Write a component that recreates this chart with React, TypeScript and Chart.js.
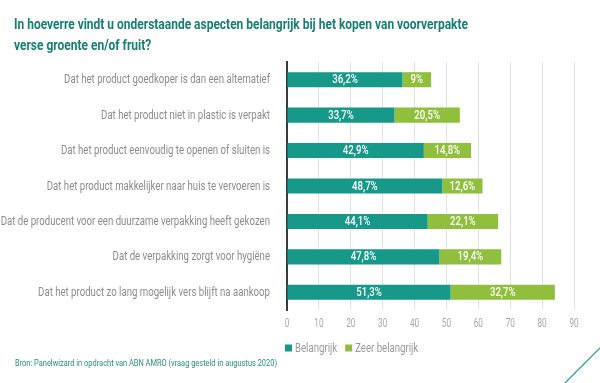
import React, { useEffect, useLayoutEffect, useRef } from "react";
import { Chart, registerables } from "chart.js";

Chart.register(...registerables);

const titleLines = [
  "In hoeverre vindt u onderstaande aspecten belangrijk bij het kopen van voorverpakte",
  "verse groente en/of fruit?",
];
const categories = [
  "Dat het product goedkoper is dan een alternatief",
  "Dat het product niet in plastic is verpakt",
  "Dat het product eenvoudig te openen of sluiten is",
  "Dat het product makkelijker naar huis te vervoeren is",
  "Dat de producent voor een duurzame verpakking heeft gekozen",
  "Dat de verpakking zorgt voor hygiëne",
  "Dat het product zo lang mogelijk vers blijft na aankoop",
];
const seriesNames = ["Belangrijk", "Zeer belangrijk"];
const belangrijk = [36.2, 33.7, 42.9, 48.7, 44.1, 47.8, 51.3];
const zeerBelangrijk = [9, 20.5, 14.8, 12.6, 22.1, 19.4, 32.7];
const xMin = 0;
const xMax = 90;
const xStep = 10;
const sourceText = "Bron: Panelwizard in opdracht van ABN AMRO (vraag gesteld in augustus 2020)";

const FONT = 'Roboto, "Liberation Sans", sans-serif';
const TEAL = "#17998a";
const GREEN = "#8fbf3d";
const colors = [TEAL, GREEN];

const fmt = (v: number) => String(v).replace(".", ",") + "%";

function drawNarrow(ctx: CanvasRenderingContext2D, text: string, x: number, y: number, align: CanvasTextAlign, sx: number, font: string, color: string) {
  ctx.save();
  ctx.font = font;
  ctx.fillStyle = color;
  ctx.textAlign = align;
  ctx.textBaseline = "middle";
  ctx.translate(x, y);
  ctx.scale(sx, 1);
  ctx.fillText(text, 0, 0);
  ctx.restore();
}

const textPlugin = {
  id: "narrowText",
  afterDatasetsDraw(chart: any) {
    const ctx = chart.ctx as CanvasRenderingContext2D;
    chart.data.datasets.forEach((ds: any, i: number) => {
      const meta = chart.getDatasetMeta(i);
      meta.data.forEach((bar: any, j: number) => {
        const v = ds.data[j] as number;
        const { x, y, base } = bar.getProps(["x", "y", "base"], true);
        drawNarrow(ctx, fmt(v), (x + base) / 2, y + 0.5, "center", 0.8, `500 12px ${FONT}`, "#ffffff");
      });
    });
  },
  afterDraw(chart: any) {
    const ctx = chart.ctx as CanvasRenderingContext2D;
    const ys = chart.scales.y;
    const xs = chart.scales.x;
    (chart.data.labels as string[]).forEach((lab, i) => {
      drawNarrow(ctx, lab, ys.right - 17, ys.getPixelForTick(i) + 0.5, "right", 0.77, `12.5px ${FONT}`, "#8c8c8c");
    });
    xs.ticks.forEach((t: any) => {
      drawNarrow(ctx, String(t.value), xs.getPixelForValue(t.value), xs.top + 14, "center", 0.68, `12px ${FONT}`, "#a8a8a8");
    });
    let lx = xs.left - 2;
    const ly = xs.top + 38;
    chart.data.datasets.forEach((ds: any, i: number) => {
      ctx.save();
      ctx.fillStyle = ds.backgroundColor;
      ctx.fillRect(lx, ly - 3.5, 7, 7);
      ctx.restore();
      const font = `13px ${FONT}`;
      ctx.save();
      ctx.font = font;
      const w = ctx.measureText(ds.label).width * 0.74;
      ctx.restore();
      drawNarrow(ctx, ds.label, lx + 10, ly + 0.5, "left", 0.74, font, "#9a9a9a");
      lx += 10 + w + 8;
    });
  },
};

function FitText({ lines, width, style }: { lines: string[]; width: number; style: React.CSSProperties }) {
  const ref = useRef<HTMLDivElement | null>(null);
  useLayoutEffect(() => {
    const el = ref.current;
    if (!el) return;
    const first = el.firstElementChild?.firstElementChild as HTMLElement;
    const natural = first.getBoundingClientRect().width;
    el.style.transform = `scaleX(${width / natural})`;
  }, []);
  return (
    <div ref={ref} style={{ ...style, transformOrigin: "0 0", whiteSpace: "nowrap" }}>
      {lines.map((t, i) => (
        <div key={i}><span>{t}</span></div>
      ))}
    </div>
  );
}

export default function App() {
  const ref = useRef<HTMLCanvasElement | null>(null);

  useEffect(() => {
    if (!ref.current) return;
    const chart = new Chart(ref.current, {
      type: "bar",
      data: {
        labels: categories,
        datasets: [
          { label: seriesNames[0], data: belangrijk, backgroundColor: colors[0], categoryPercentage: 0.85, barPercentage: 0.5 },
          { label: seriesNames[1], data: zeerBelangrijk, backgroundColor: colors[1], categoryPercentage: 0.85, barPercentage: 0.5 },
        ],
      },
      options: {
        indexAxis: "y",
        responsive: false,
        animation: false,
        devicePixelRatio: 1,
        layout: { padding: { top: 62, right: 26, bottom: 0, left: 0 } },
        plugins: { legend: { display: false }, tooltip: { enabled: false }, title: { display: false } },
        scales: {
          x: {
            stacked: true,
            min: xMin,
            max: xMax,
            ticks: { stepSize: xStep, display: false },
            grid: { color: (c: any) => (c.tick && c.tick.value === 0 ? "rgba(0,0,0,0)" : "#e2e2e2"), lineWidth: 1, drawTicks: false },
            border: { display: false },
            afterFit: (s: any) => { s.height = 73; },
          },
          y: {
            stacked: true,
            ticks: { display: false },
            grid: { display: false, drawTicks: false },
            border: { display: true, color: "#3a3a3a", width: 2 },
            afterFit: (s: any) => { s.width = 287; },
          },
        },
      },
      plugins: [textPlugin],
    });
    return () => chart.destroy();
  }, []);

  return (
    <div style={{ position: "absolute", left: 0, top: 0, width: 600, height: 383, background: "#fff", overflow: "hidden" }}>
      <canvas ref={ref} width={600} height={383} style={{ position: "absolute", left: 0, top: 0, width: 600, height: 383 }} />
      <FitText
        lines={titleLines}
        width={454}
        style={{ position: "absolute", left: 14, top: 14, color: "#167f72", fontFamily: FONT, fontWeight: 700, fontSize: 15.5, lineHeight: "21px" }}
      />
      <FitText
        lines={[sourceText]}
        width={262}
        style={{ position: "absolute", left: 15, top: 357, color: "#2a8b80", fontFamily: FONT, fontSize: 8.5, lineHeight: "12px" }}
      />
      <svg width={600} height={383} style={{ position: "absolute", left: 0, top: 0, pointerEvents: "none" }}>
        <line x1={565} y1={383} x2={600} y2={348} stroke="#2a9a8c" strokeWidth={1.2} />
      </svg>
    </div>
  );
}
